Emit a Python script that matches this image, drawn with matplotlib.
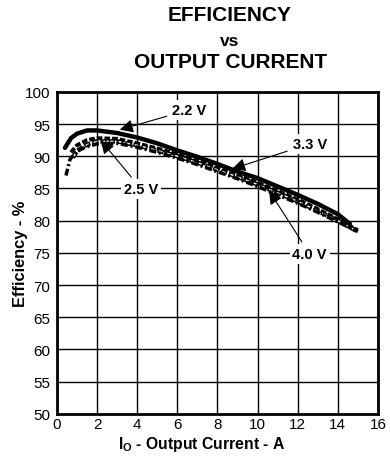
import matplotlib
matplotlib.use('Agg')
import matplotlib.pyplot as plt

plt.rcParams['font.family'] = ['Liberation Sans', 'DejaVu Sans']
plt.rcParams['mathtext.fontset'] = 'custom'
plt.rcParams['mathtext.rm'] = 'Liberation Sans:bold'
plt.rcParams['mathtext.bf'] = 'Liberation Sans:bold'
plt.rcParams['lines.scale_dashes'] = False

# Efficiency curves for each input voltage (current in A, efficiency in %)
i_22 = [0.4, 0.7, 1.0, 1.5, 2, 3, 4, 5, 6, 7, 8, 9, 10, 11, 12, 13, 14, 14.6]
eff_22 = [91.3, 92.8, 93.5, 94.0, 94.0, 93.6, 92.9, 92.0, 90.9, 89.9, 88.8,
          87.6, 86.6, 85.3, 84.0, 82.6, 81.0, 79.5]

i_25 = [0.7, 1.0, 1.5, 2, 3, 4, 5, 6, 7, 8, 9, 10, 11, 12, 13, 14, 15]
eff_25 = [90.6, 91.7, 92.5, 92.8, 92.7, 92.0, 91.2, 90.3, 89.3, 88.2, 87.1,
          85.9, 84.6, 83.3, 81.8, 80.2, 78.5]

i_33 = [0.8, 1.0, 1.5, 2, 3, 4, 5, 6, 7, 8, 9, 10, 11, 12, 13, 14, 15]
eff_33 = [89.8, 90.8, 91.8, 92.3, 92.3, 91.7, 90.9, 90.0, 89.0, 87.9, 86.8,
          85.6, 84.3, 83.0, 81.5, 80.0, 78.3]

i_40 = [0.45, 0.65, 1.0, 1.5, 2, 3, 4, 5, 6, 7, 8, 9, 10, 11, 12, 13, 14, 15]
eff_40 = [87.0, 89.5, 90.8, 91.5, 91.9, 92.0, 91.4, 90.6, 89.7, 88.7, 87.6,
          86.5, 85.3, 84.0, 82.7, 81.3, 79.8, 78.3]

fig = plt.figure(figsize=(3.9, 4.64), dpi=100)
ax = fig.add_axes([0.146, 0.106, 0.823, 0.694])

ax.plot(i_22, eff_22, color='black', lw=3.2, solid_capstyle='round', zorder=4)
ax.plot(i_25, eff_25, color='black', lw=2.8, linestyle=(0, (4, 1.5)), zorder=3)
# hollow dashes: black dashes with a thin white core
ax.plot(i_33, eff_33, color='black', lw=3.2, linestyle=(0, (4.5, 1.5)), zorder=3)
ax.plot(i_33, eff_33, color='white', lw=1.0, linestyle=(-1, (2.5, 3.5)), zorder=3)
ax.plot(i_40, eff_40, color='black', lw=2.5, linestyle=(0, (5, 2, 1.5, 2)), zorder=3)

ax.set_xlim(0, 16)
ax.set_ylim(50, 100)
ax.set_xticks(range(0, 17, 2))
ax.set_yticks(range(50, 101, 5))
ax.tick_params(length=0, labelsize=11)
ax.tick_params(axis='x', pad=2)
ax.tick_params(axis='y', pad=5)
ax.grid(True, color='black', lw=1)
ax.set_axisbelow(True)
for sp in ax.spines.values():
    sp.set_linewidth(2)

ax.set_xlabel(r'I$_{\rm O}$ - Output Current - A', fontsize=11.3, fontweight='bold')
ax.xaxis.set_label_coords(0.452, -0.062)
ax.set_ylabel('Efficiency - %', fontsize=11.8, fontweight='bold')
ax.yaxis.set_label_coords(-0.09, 0.5)

# voltage labels with arrows
box = dict(fc='white', ec='none', pad=2)
arrow = dict(arrowstyle='-|>', color='black', lw=0.8, mutation_scale=20)
labels = [('2.2 V', (3.0, 94.0), (6.6, 97.2)),
          ('2.5 V', (2.1, 92.8), (4.2, 84.9)),
          ('3.3 V', (8.6, 87.9), (12.6, 91.9)),
          ('4.0 V', (10.5, 85.0), (12.6, 74.8))]
for txt, tip, pos in labels:
    ax.annotate(txt, xy=tip, xytext=pos, ha='center', va='center',
                fontsize=10.5, fontweight='bold', bbox=box, arrowprops=arrow,
                zorder=6)

fig.text(0.59, 0.966, 'EFFICIENCY', ha='center', va='center',
         fontsize=15, fontweight='bold')
fig.text(0.59, 0.911, 'vs', ha='center', va='center',
         fontsize=12.5, fontweight='bold')
fig.text(0.59, 0.865, 'OUTPUT CURRENT', ha='center', va='center',
         fontsize=15, fontweight='bold')

fig.savefig('out.png', dpi=100)
